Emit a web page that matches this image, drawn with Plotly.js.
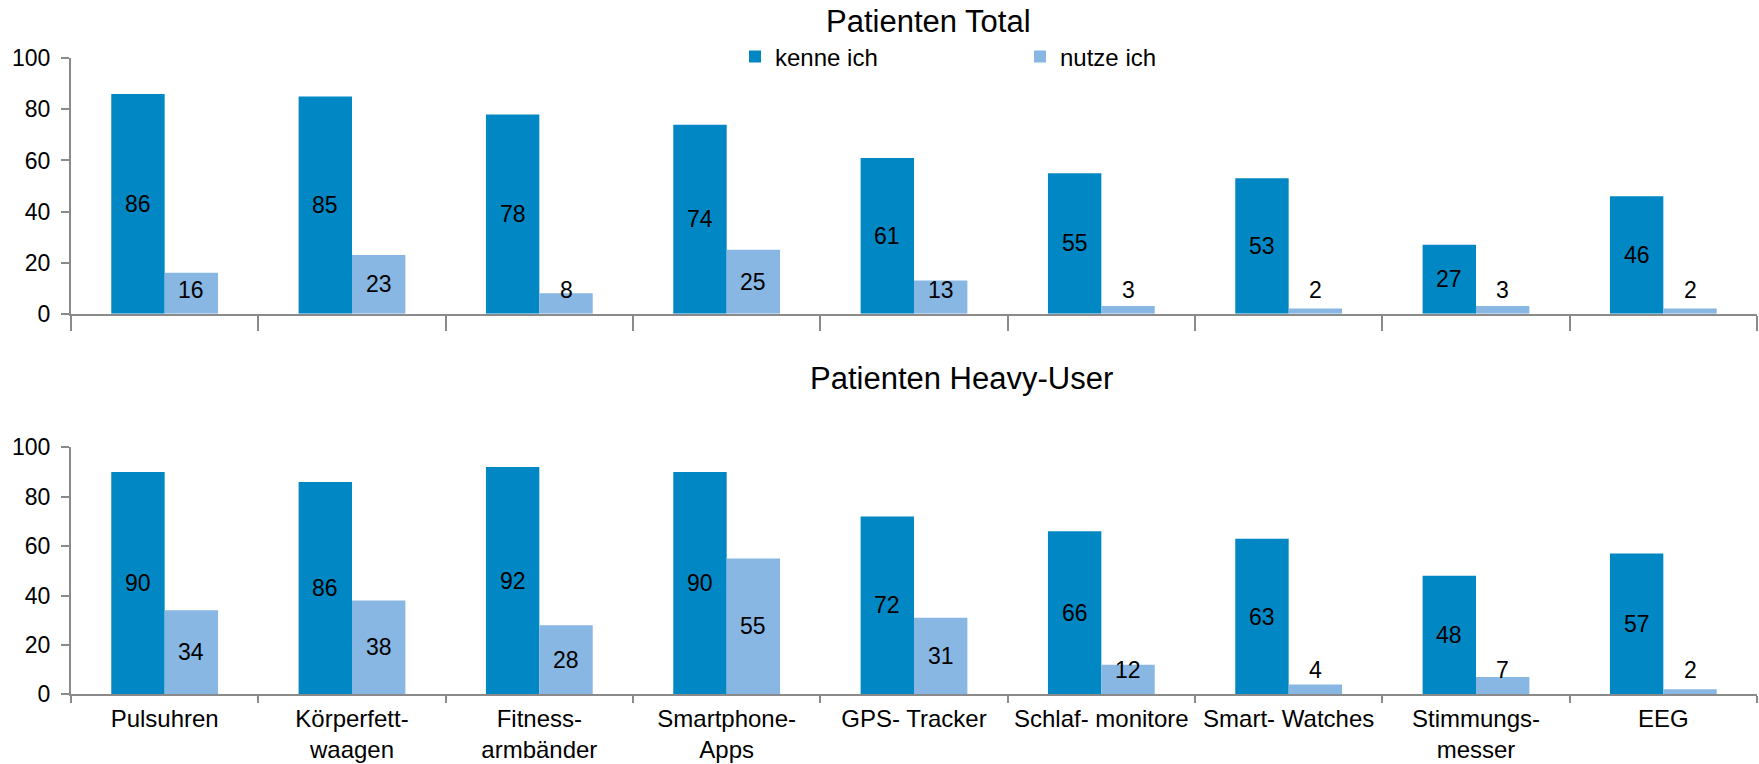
<!DOCTYPE html>
<html>
<head>
<meta charset="utf-8">
<script src="https://cdn.plot.ly/plotly-3.0.1.min.js"></script>
<style>html,body{margin:0;padding:0;background:#fff}#chart{width:1759px;height:764px}</style>
</head>
<body>
<div id="chart"></div>
<script>
const categories = ["Pulsuhren", "Körperfett-<br>waagen", "Fitness-<br>armbänder", "Smartphone-<br>Apps", "GPS- Tracker", "Schlaf- monitore", "Smart- Watches", "Stimmungs-<br>messer", "EEG"];
const seriesNames = ["kenne ich", "nutze ich"];
const totalKenne = [86, 85, 78, 74, 61, 55, 53, 27, 46];
const totalNutze = [16, 23, 8, 25, 13, 3, 2, 3, 2];
const heavyKenne = [90, 86, 92, 90, 72, 66, 63, 48, 57];
const heavyNutze = [34, 38, 28, 55, 31, 12, 4, 7, 2];
const panelTitles = ["Patienten Total", "Patienten Heavy-User"];
const yTicks = [0, 20, 40, 60, 80, 100];

const W = 1759, H = 764;
const FONT = "Liberation Sans, Arial, sans-serif";
const dark = "#0087C4", light = "#88B7E3";
const axisCol = "#8a8a8a";
const BARGAP = 0.43;

const xDom = [71 / W, 1757 / W];
const topDom = [1 - 313.7 / H, 1 - 58.3 / H];
const botDom = [1 - 694.3 / H, 1 - 447.3 / H];

function bar(y, name, color, xa, ya, show) {
  return {
    type: "bar", x: categories, y: y, name: name, xaxis: xa, yaxis: ya,
    marker: {color: color, line: {width: 0}},
    showlegend: show, legendgroup: name,
    textposition: "none", hoverinfo: "skip"
  };
}

const data = [
  bar(totalKenne, seriesNames[0], dark, "x", "y", true),
  bar(totalNutze, seriesNames[1], light, "x", "y", true),
  bar(heavyKenne, seriesNames[0], dark, "x2", "y2", false),
  bar(heavyNutze, seriesNames[1], light, "x2", "y2", false)
];

// data labels: centred in the bar, but never lower than the label's own half height above the axis
const plotPx = (xDom[1] - xDom[0]) * W;
const barPx = plotPx / categories.length * (1 - BARGAP) / 2;
const annotations = [];
function labels(values, xa, ya, dom, side) {
  const pxPerUnit = (dom[1] - dom[0]) * H / 100;
  const minY = 24 / pxPerUnit;
  values.forEach((v, i) => {
    annotations.push({
      text: String(v), x: categories[i], y: Math.max(v / 2, minY), xref: xa, yref: ya,
      xshift: side * barPx / 2, showarrow: false, xanchor: "center", yanchor: "middle",
      font: {family: FONT, size: 23, color: "#000"}
    });
  });
}
labels(totalKenne, "x", "y", topDom, -1);
labels(totalNutze, "x", "y", topDom, 1);
labels(heavyKenne, "x2", "y2", botDom, -1);
labels(heavyNutze, "x2", "y2", botDom, 1);

annotations.push(
  {text: panelTitles[0], xref: "paper", yref: "paper", x: 928 / W, y: 1 - 22 / H,
   xanchor: "center", yanchor: "middle", showarrow: false,
   font: {family: FONT, size: 31, color: "#000"}},
  {text: panelTitles[1], xref: "paper", yref: "paper", x: 961 / W, y: 1 - 378 / H,
   xanchor: "center", yanchor: "middle", showarrow: false,
   font: {family: FONT, size: 31, color: "#000"}}
);

function yAxis(dom, anchor) {
  return {
    domain: dom, anchor: anchor, range: [0, 100], tickvals: yTicks,
    showgrid: false, zeroline: false, showline: true, linecolor: axisCol, linewidth: 2,
    ticks: "outside", ticklen: 8, tickwidth: 2, tickcolor: axisCol,
    tickfont: {family: FONT, size: 23, color: "#000"},
    ticklabelstandoff: 6, automargin: false, fixedrange: true
  };
}
function xAxis(anchor, showLabels, tlen) {
  return {
    domain: xDom, anchor: anchor, type: "category",
    showgrid: false, zeroline: false, showline: true, linecolor: axisCol, linewidth: 2,
    ticks: "outside", tickson: "boundaries", ticklen: tlen, tickwidth: 2, tickcolor: axisCol,
    showticklabels: showLabels, tickangle: 0,
    tickfont: {family: FONT, size: 24, color: "#000"},
    ticklabelstandoff: 2, automargin: false, fixedrange: true
  };
}

const layout = {
  width: W, height: H,
  margin: {l: 0, r: 0, t: 0, b: 0, pad: 0},
  paper_bgcolor: "#fff", plot_bgcolor: "rgba(0,0,0,0)",
  font: {family: FONT, size: 23, color: "#000"},
  barmode: "group", bargap: BARGAP, bargroupgap: 0,
  xaxis: xAxis("y", false, 15),
  yaxis: yAxis(topDom, "x"),
  xaxis2: xAxis("y2", true, 7),
  yaxis2: yAxis(botDom, "x2"),
  legend: {
    orientation: "h", x: 735 / W, xanchor: "left", y: 1 - 57 / H, yanchor: "middle",
    entrywidth: 240, entrywidthmode: "pixels",
    font: {family: FONT, size: 24, color: "#000"},
    bgcolor: "rgba(0,0,0,0)", borderwidth: 0, itemclick: false, itemdoubleclick: false
  },
  annotations: annotations
};

Plotly.newPlot("chart", data, layout, {displayModeBar: false, staticPlot: true});
</script>
</body>
</html>
